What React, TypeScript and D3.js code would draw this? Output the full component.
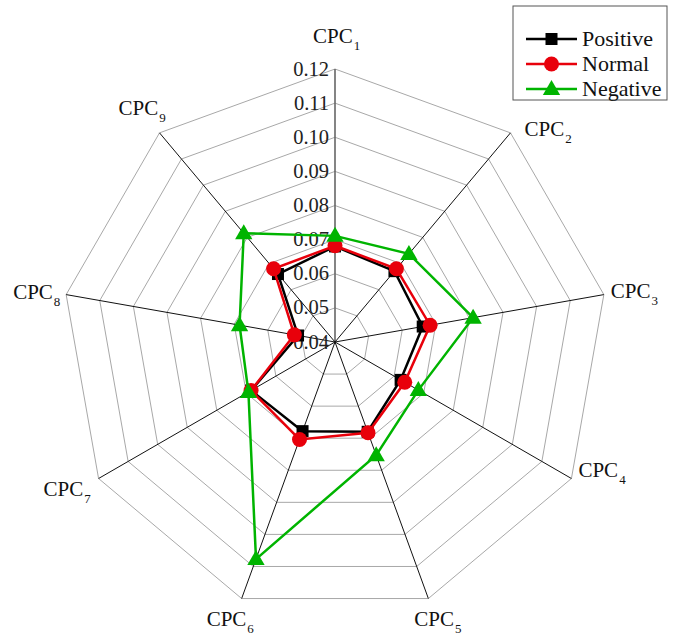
import React from 'react';
import * as d3 from 'd3';

// axes and series
const axes = ['1', '2', '3', '4', '5', '6', '7', '8', '9'];
const positive = [0.068, 0.0671, 0.0661, 0.0622, 0.068, 0.0678, 0.0684, 0.051, 0.066];
const normal = [0.0682, 0.068, 0.0683, 0.0636, 0.0683, 0.0704, 0.0684, 0.0521, 0.068];
const negative = [0.0711, 0.0737, 0.0811, 0.0682, 0.0753, 0.1077, 0.0693, 0.0684, 0.0816];
const tickValues = [0.04, 0.05, 0.06, 0.07, 0.08, 0.09, 0.1, 0.11, 0.12];

const seriesNames = ['Positive', 'Normal', 'Negative'];
const seriesColors = ['#000000', '#e8000b', '#00b400'];

// label offsets (dx, dy) of the text start relative to each axis end
const labelPlace: [number, number][] = [
  [-22, -26],
  [14, 3],
  [7, 3],
  [7, -2],
  [-14, 27],
  [-35, 27],
  [-55, 17],
  [-53, 4],
  [-41, -18],
];

const W = 677;
const H = 637;
const cx = 335;
const cy = 342;
const R = 273;
const FONT = '"Liberation Serif", "Times New Roman", serif';

const r = d3.scaleLinear().domain([0.04, 0.12]).range([0, R]);
const angle = (i: number) => (i * 2 * Math.PI) / axes.length;
const pt = (i: number, v: number): [number, number] => [
  cx + r(v) * Math.sin(angle(i)),
  cy - r(v) * Math.cos(angle(i)),
];

const Marker = ({ kind, x, y, color }: { kind: number; x: number; y: number; color: string }) => {
  if (kind === 0) return <rect x={x - 6} y={y - 6} width={12} height={12} fill={color} />;
  if (kind === 1) return <circle cx={x} cy={y} r={7.5} fill={color} />;
  const s = d3.symbol().type(d3.symbolTriangle).size(130)();
  return <path d={s || ''} transform={`translate(${x},${y + 1})`} fill={color} />;
};

export default function App() {
  const data = [positive, normal, negative];
  const line = d3.line().curve(d3.curveLinearClosed);

  return (
    <svg
      width={W}
      height={H}
      style={{ position: 'absolute', left: 0, top: 0, background: '#fff' }}
      fontFamily={FONT}
    >
      {/* grid rings */}
      {tickValues.slice(1).map((t) => (
        <path
          key={t}
          d={line(axes.map((_, i) => pt(i, t))) || ''}
          fill="none"
          stroke="#a8a8a8"
          strokeWidth={1}
        />
      ))}
      {/* spokes */}
      {axes.map((a, i) => {
        const [x, y] = pt(i, 0.12);
        return (
          <line
            key={a}
            x1={cx}
            y1={cy}
            x2={x}
            y2={y}
            stroke={i === 0 ? '#666' : '#111'}
            strokeWidth={i === 0 ? 1.6 : 1}
          />
        );
      })}
      {/* tick labels */}
      {tickValues.map((t) => (
        <text
          key={t}
          x={329}
          y={cy - r(t) + 6.5}
          textAnchor="end"
          fontSize={20.5}
          fill="#222"
        >
          {t.toFixed(2)}
        </text>
      ))}
      {/* axis labels */}
      {axes.map((a, i) => {
        const [x, y] = pt(i, 0.12);
        const [dx, dy] = labelPlace[i];
        return (
          <text key={a} x={x + dx} y={y + dy} fontSize={21} fill="#111">
            CPC
            <tspan fontSize={13} dx={1} dy={7}>
              {a}
            </tspan>
          </text>
        );
      })}
      {/* series */}
      {data.map((vals, s) => (
        <g key={seriesNames[s]}>
          <path
            d={line(vals.map((v, i) => pt(i, v))) || ''}
            fill="none"
            stroke={seriesColors[s]}
            strokeWidth={2.5}
          />
          {vals.map((v, i) => {
            const [x, y] = pt(i, v);
            return <Marker key={i} kind={s} x={x} y={y} color={seriesColors[s]} />;
          })}
        </g>
      ))}
      {/* legend */}
      <g>
        <rect x={513} y={6} width={154} height={94} fill="#fff" stroke="#555" strokeWidth={1} />
        {seriesNames.map((n, s) => {
          const y = 39 + s * 25;
          return (
            <g key={n}>
              <line x1={526} x2={577} y1={y} y2={y} stroke={seriesColors[s]} strokeWidth={2.5} />
              <Marker kind={s} x={551.5} y={y} color={seriesColors[s]} />
              <text x={582} y={y + 7} fontSize={22} fill="#111">
                {n}
              </text>
            </g>
          );
        })}
      </g>
    </svg>
  );
}
